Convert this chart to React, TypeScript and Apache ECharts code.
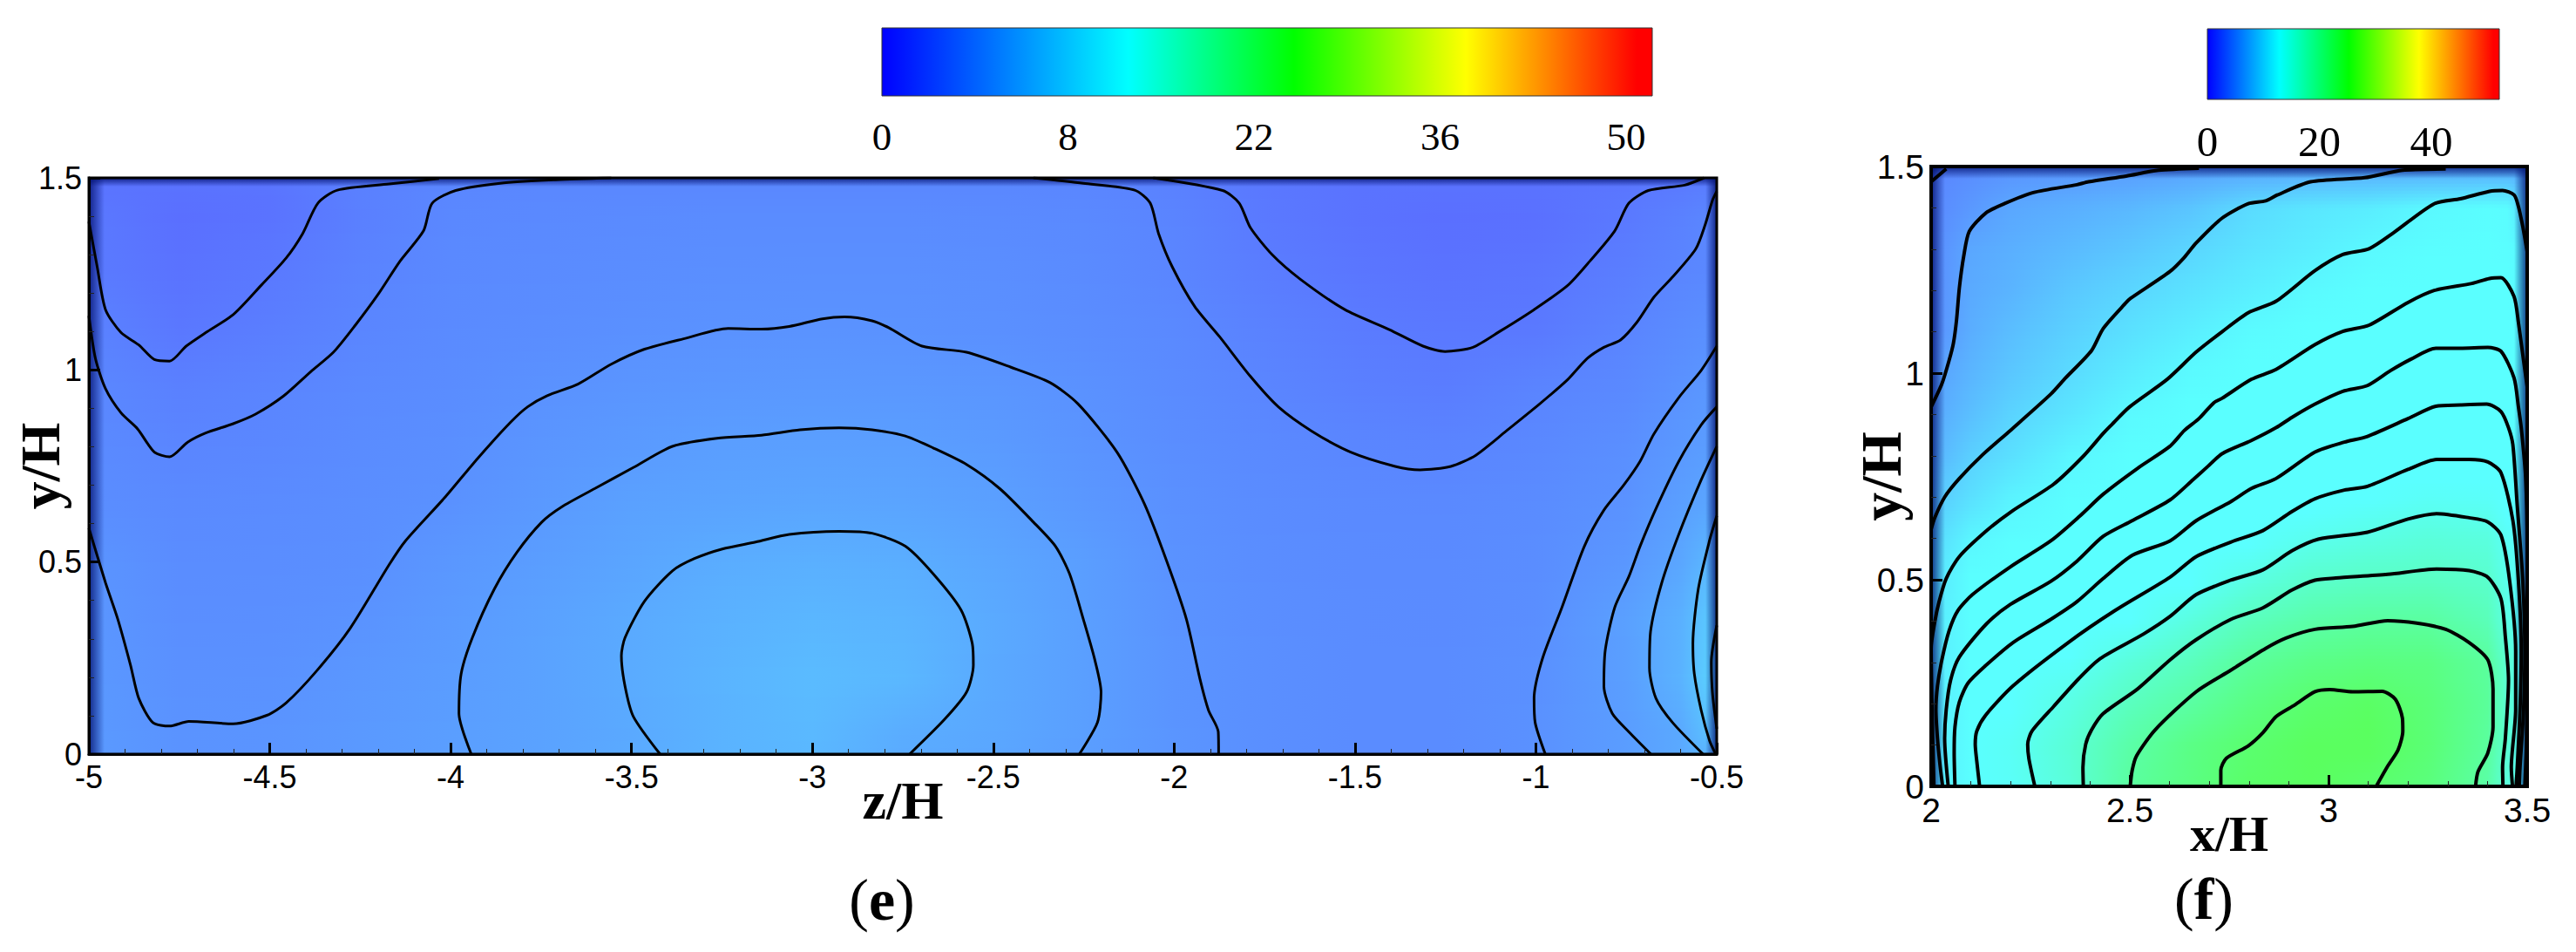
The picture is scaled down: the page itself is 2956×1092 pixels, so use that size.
import { useEffect, useRef } from "react";
import * as echarts from "echarts";

// panel (e): sampled field, rows top to bottom, columns left to right
const eCols = [-5, -4.75, -4.5, -4.25, -4, -3.75, -3.5, -3.25, -3, -2.75, -2.5, -2.25, -2, -1.75, -1.5, -1.25, -1, -0.75, -0.6, -0.5];
const eRows = [1.5, 1.4, 1.25, 1.1, 0.95, 0.8, 0.65, 0.5, 0.35, 0.2, 0.05, 0];
const eField = [
  [1.5, 1.5, 1.6, 2.6, 3.0, 3.1, 3.1, 3.1, 3.1, 3.1, 3.1, 3.0, 2.6, 1.9, 1.5, 1.5, 1.5, 1.7, 2.0, 2.2],
  [2.0, 1.2, 1.5, 2.5, 3.2, 3.3, 3.4, 3.5, 3.5, 3.5, 3.4, 3.3, 2.9, 2.0, 1.5, 1.2, 1.3, 2.0, 2.6, 3.2],
  [2.2, 1.5, 2.0, 2.8, 3.3, 3.45, 3.6, 3.75, 3.8, 3.8, 3.7, 3.45, 3.0, 2.3, 1.8, 1.5, 1.7, 2.4, 3.0, 3.3],
  [2.8, 1.9, 2.4, 3.0, 3.4, 3.6, 3.85, 4.0, 4.05, 4.0, 3.85, 3.6, 3.3, 2.7, 2.2, 1.95, 2.0, 2.9, 3.5, 3.9],
  [3.2, 2.6, 2.9, 3.3, 3.55, 3.95, 4.25, 4.4, 4.5, 4.45, 4.3, 3.95, 3.45, 3.0, 2.55, 2.3, 2.9, 3.3, 4.0, 4.5],
  [3.4, 3.0, 3.15, 3.5, 3.75, 4.25, 4.65, 4.97, 5.05, 5.0, 4.7, 4.15, 3.65, 3.3, 3.05, 2.9, 3.2, 3.75, 4.5, 5.0],
  [3.65, 3.35, 3.45, 3.65, 3.95, 4.55, 5.2, 5.4, 5.55, 5.45, 5.1, 4.45, 3.85, 3.5, 3.35, 3.3, 3.5, 4.0, 5.0, 5.7],
  [4.2, 3.55, 3.6, 3.75, 4.4, 4.9, 5.5, 6.1, 6.35, 6.2, 5.6, 4.95, 4.0, 3.6, 3.45, 3.4, 3.6, 4.4, 5.6, 7.4],
  [4.35, 3.7, 3.75, 4.05, 4.6, 5.2, 5.9, 6.5, 6.9, 6.7, 5.9, 5.0, 4.1, 3.7, 3.5, 3.45, 3.7, 5.1, 6.4, 8.9],
  [4.5, 3.9, 3.95, 4.4, 4.8, 5.3, 6.0, 6.7, 7.3, 7.0, 5.85, 5.05, 4.15, 3.75, 3.55, 3.5, 3.85, 5.0, 6.6, 9.5],
  [4.6, 4.05, 4.15, 4.55, 4.95, 5.25, 5.85, 6.6, 7.1, 6.1, 5.7, 5.0, 4.2, 3.75, 3.55, 3.5, 3.9, 4.85, 5.8, 8.2],
  [4.6, 4.1, 4.2, 4.6, 5.0, 5.3, 5.9, 6.6, 7.0, 6.0, 5.6, 4.95, 4.2, 3.75, 3.55, 3.5, 3.95, 4.9, 5.8, 7.0]
];

// panel (f): sampled field
const fCols = [2, 2.1, 2.2, 2.35, 2.5, 2.65, 2.8, 2.95, 3.1, 3.25, 3.4, 3.45, 3.5];
const fRows = [1.5, 1.4, 1.3, 1.2, 1.1, 1.0, 0.9, 0.8, 0.7, 0.6, 0.5, 0.4, 0.3, 0.2, 0.1, 0];
const fField = [
  [3, 3.5, 4, 4.3, 4.6, 5, 5.3, 5.5, 5.5, 5.5, 5.5, 5.5, 5.5],
  [3.2, 4.5, 5.7, 6.3, 7, 8, 9.8, 10.7, 11.2, 12.2, 12.6, 12.5, 9],
  [3.4, 5.7, 6.3, 7.2, 8.2, 9.4, 10.5, 11.3, 12.2, 12.6, 12.7, 12.6, 12],
  [3.5, 5.9, 6.7, 8.3, 9.4, 10.4, 11.4, 12.3, 12.7, 13, 13.3, 12.8, 12],
  [3.7, 6.2, 7.5, 9, 10.3, 11.4, 12.4, 12.8, 13.1, 13.3, 13.6, 13.2, 12.5],
  [5, 6.8, 8.2, 9.8, 11.2, 12.3, 12.8, 13.3, 13.7, 14.1, 14.3, 14, 12.9],
  [5.7, 7.6, 9.2, 10.7, 12.3, 12.9, 13.4, 13.9, 14.3, 14.7, 14.9, 14.5, 13],
  [6.5, 8.9, 10.2, 12, 12.7, 13.3, 13.9, 14.5, 14.9, 15.4, 15.5, 15, 13],
  [8.2, 10.2, 11.7, 12.6, 13.3, 13.9, 14.8, 15.4, 15.9, 16.4, 16.3, 15.5, 13],
  [9.5, 12, 12.6, 13.3, 14, 14.8, 15.7, 16.9, 17.5, 18, 17.8, 16.5, 13.5],
  [10.5, 12.8, 13.1, 14.2, 15, 15.7, 17.5, 18.8, 19.2, 19.3, 18.8, 17, 13.5],
  [11, 13.4, 14, 14.8, 16, 17.8, 19.7, 20.8, 21.4, 21.4, 20, 17.5, 13.5],
  [11, 14.2, 15, 16.2, 18, 19.6, 21.6, 22.7, 23.2, 23, 21.5, 18.5, 13.5],
  [11, 15, 15.9, 17.5, 19.6, 21.2, 23, 24.2, 24.7, 23.6, 21.7, 18.5, 13.5],
  [11, 15.4, 16.5, 18.3, 20.9, 22.8, 24.1, 25, 25.2, 23.8, 21.5, 18.5, 13.5],
  [11, 15.2, 16.4, 18.2, 21.4, 23, 24.5, 25.2, 24.3, 23.4, 21, 18, 13.5]
];

// contour lines of (e), as [z/H, y/H]
const eContours = [
  [[-5, 1.386], [-4.977, 1.268], [-4.954, 1.157], [-4.911, 1.097], [-4.862, 1.065], [-4.819, 1.027], [-4.777, 1.023], [-4.731, 1.062], [-4.677, 1.097], [-4.601, 1.144], [-4.524, 1.22], [-4.455, 1.291], [-4.409, 1.355], [-4.367, 1.434], [-4.313, 1.468], [-4.17, 1.484], [-4.032, 1.498]],
  [[-5, 1.141], [-4.982, 1.03], [-4.954, 0.951], [-4.911, 0.888], [-4.865, 0.846], [-4.819, 0.786], [-4.777, 0.774], [-4.727, 0.812], [-4.677, 0.836], [-4.601, 0.86], [-4.539, 0.885], [-4.462, 0.932], [-4.386, 0.996], [-4.324, 1.046], [-4.263, 1.117], [-4.201, 1.196], [-4.14, 1.283], [-4.075, 1.362], [-4.051, 1.434], [-3.986, 1.467], [-3.863, 1.486], [-3.71, 1.495], [-3.556, 1.5]],
  [[-2.389, 1.5], [-2.251, 1.486], [-2.109, 1.468], [-2.066, 1.434], [-2.043, 1.355], [-2.005, 1.268], [-1.943, 1.165], [-1.874, 1.086], [-1.789, 0.983], [-1.712, 0.904], [-1.62, 0.841], [-1.512, 0.786], [-1.389, 0.749], [-1.32, 0.74], [-1.235, 0.749], [-1.166, 0.778], [-1.082, 0.841], [-0.989, 0.912], [-0.912, 0.975], [-0.858, 1.03], [-0.812, 1.059], [-0.766, 1.078], [-0.72, 1.125], [-0.674, 1.189], [-0.62, 1.244], [-0.558, 1.315], [-0.532, 1.378], [-0.512, 1.441], [-0.5, 1.465]],
  [[-2.058, 1.5], [-1.866, 1.467], [-1.82, 1.434], [-1.789, 1.37], [-1.728, 1.299], [-1.651, 1.236], [-1.528, 1.157], [-1.405, 1.105], [-1.312, 1.062], [-1.251, 1.048], [-1.174, 1.059], [-1.097, 1.102], [-1.005, 1.157], [-0.912, 1.22], [-0.851, 1.283], [-0.782, 1.362], [-0.743, 1.434], [-0.689, 1.467], [-0.589, 1.481], [-0.535, 1.5]],
  [[-5, 0.588], [-4.954, 0.446], [-4.92, 0.351], [-4.885, 0.232], [-4.862, 0.145], [-4.823, 0.082], [-4.777, 0.073], [-4.724, 0.085], [-4.601, 0.079], [-4.508, 0.101], [-4.455, 0.133], [-4.37, 0.217], [-4.278, 0.327], [-4.17, 0.493], [-4.124, 0.556], [-4.017, 0.667], [-3.925, 0.77], [-3.833, 0.865], [-3.787, 0.904], [-3.733, 0.933], [-3.648, 0.963], [-3.556, 1.015], [-3.464, 1.054], [-3.356, 1.081], [-3.233, 1.108], [-3.141, 1.106], [-3.064, 1.113], [-2.972, 1.133], [-2.911, 1.138], [-2.835, 1.128], [-2.789, 1.11], [-2.697, 1.062], [-2.574, 1.046], [-2.451, 1.007], [-2.343, 0.967], [-2.266, 0.912], [-2.158, 0.786], [-2.082, 0.651], [-2.02, 0.501], [-1.966, 0.351], [-1.928, 0.193], [-1.905, 0.114], [-1.878, 0.058], [-1.877, 0]],
  [[-3.943, 0], [-3.977, 0.106], [-3.971, 0.209], [-3.94, 0.303], [-3.879, 0.43], [-3.817, 0.525], [-3.748, 0.604], [-3.694, 0.643], [-3.602, 0.691], [-3.495, 0.746], [-3.387, 0.801], [-3.264, 0.822], [-3.141, 0.83], [-3.034, 0.844], [-2.926, 0.849], [-2.835, 0.844], [-2.743, 0.828], [-2.666, 0.797], [-2.574, 0.754], [-2.482, 0.691], [-2.389, 0.604], [-2.328, 0.541], [-2.289, 0.469], [-2.251, 0.351], [-2.22, 0.248], [-2.202, 0.161], [-2.212, 0.082], [-2.262, 0]],
  [[-3.421, 0], [-3.495, 0.098], [-3.518, 0.177], [-3.528, 0.256], [-3.518, 0.303], [-3.464, 0.398], [-3.387, 0.477], [-3.326, 0.509], [-3.249, 0.534], [-3.157, 0.552], [-3.064, 0.572], [-2.926, 0.58], [-2.835, 0.575], [-2.743, 0.541], [-2.666, 0.469], [-2.589, 0.375], [-2.558, 0.288], [-2.555, 0.232], [-2.574, 0.161], [-2.635, 0.09], [-2.731, 0]],
  [[-0.974, 0], [-1.002, 0.082], [-1.005, 0.145], [-0.982, 0.248], [-0.928, 0.382], [-0.866, 0.541], [-0.812, 0.635], [-0.758, 0.699], [-0.712, 0.762], [-0.674, 0.833], [-0.605, 0.928], [-0.543, 0.999], [-0.5, 1.062]],
  [[-0.682, 0], [-0.743, 0.058], [-0.789, 0.106], [-0.812, 0.177], [-0.808, 0.272], [-0.782, 0.382], [-0.743, 0.462], [-0.712, 0.541], [-0.666, 0.643], [-0.605, 0.762], [-0.543, 0.857], [-0.5, 0.904]],
  [[-0.538, 0], [-0.622, 0.082], [-0.668, 0.145], [-0.686, 0.224], [-0.683, 0.319], [-0.652, 0.446], [-0.605, 0.572], [-0.543, 0.714], [-0.5, 0.801]],
  [[-0.503, 0], [-0.52, 0.035], [-0.543, 0.114], [-0.562, 0.209], [-0.566, 0.288], [-0.551, 0.43], [-0.52, 0.556], [-0.5, 0.62]],
  [[-0.5, 0.066], [-0.512, 0.161], [-0.515, 0.24], [-0.5, 0.335]]
];

// contour lines of (f), as [x/H, y/H]
const fContours = [
  [[2, 1.463], [2.038, 1.494]],
  [[2, 0.918], [2.027, 0.974], [2.045, 1.03], [2.056, 1.072], [2.064, 1.129], [2.071, 1.206], [2.082, 1.283], [2.096, 1.343], [2.137, 1.387], [2.184, 1.41], [2.257, 1.437], [2.367, 1.456], [2.396, 1.463], [2.491, 1.477], [2.572, 1.491], [2.674, 1.496]],
  [[2, 0.622], [2.009, 0.65], [2.034, 0.7], [2.071, 0.745], [2.129, 0.802], [2.199, 0.861], [2.301, 0.949], [2.338, 0.988], [2.404, 1.055], [2.433, 1.108], [2.491, 1.171], [2.502, 1.181], [2.601, 1.246], [2.637, 1.28], [2.667, 1.315], [2.732, 1.375], [2.798, 1.41], [2.842, 1.417], [2.871, 1.431], [2.955, 1.463], [3.091, 1.473], [3.186, 1.491], [3.295, 1.494]],
  [[2.007, 0], [2.002, 0.2], [2, 0.334], [2.009, 0.397], [2.02, 0.447], [2.038, 0.503], [2.071, 0.556], [2.14, 0.619], [2.202, 0.665], [2.308, 0.731], [2.382, 0.798], [2.433, 0.854], [2.451, 0.872], [2.499, 0.918], [2.594, 0.985], [2.667, 1.051], [2.732, 1.1], [2.798, 1.146], [2.868, 1.174], [2.966, 1.248], [3.036, 1.287], [3.102, 1.301], [3.164, 1.34], [3.266, 1.41], [3.332, 1.422], [3.405, 1.44], [3.438, 1.442], [3.467, 1.431], [3.478, 1.403], [3.489, 1.354], [3.5, 1.294]],
  [[2.029, 0], [2.023, 0.046], [2.016, 0.116], [2.012, 0.186], [2.016, 0.243], [2.027, 0.306], [2.045, 0.376], [2.067, 0.425], [2.104, 0.464], [2.199, 0.531], [2.301, 0.594], [2.374, 0.654], [2.433, 0.707], [2.52, 0.77], [2.601, 0.823], [2.637, 0.861], [2.674, 0.89], [2.711, 0.928], [2.732, 0.939], [2.806, 0.985], [2.868, 1.009], [2.966, 1.069], [3.036, 1.101], [3.102, 1.116], [3.2, 1.171], [3.266, 1.2], [3.361, 1.217], [3.405, 1.229], [3.434, 1.231], [3.467, 1.185], [3.478, 1.122], [3.489, 1.044], [3.5, 0.967]],
  [[2.043, 0], [2.034, 0.116], [2.038, 0.186], [2.049, 0.257], [2.071, 0.313], [2.14, 0.394], [2.199, 0.44], [2.301, 0.496], [2.367, 0.545], [2.433, 0.605], [2.506, 0.643], [2.601, 0.693], [2.659, 0.742], [2.696, 0.774], [2.732, 0.805], [2.806, 0.837], [2.868, 0.868], [2.908, 0.893], [2.966, 0.925], [3.036, 0.956], [3.098, 0.97], [3.156, 1.006], [3.208, 1.034], [3.27, 1.06], [3.332, 1.06], [3.401, 1.062], [3.434, 1.053], [3.467, 0.988], [3.478, 0.918], [3.485, 0.868], [3.496, 0.749], [3.5, 0.573], [3.5, 0.35], [3.498, 0.1], [3.494, 0]],
  [[2.06, 0], [2.058, 0.081], [2.06, 0.144], [2.071, 0.204], [2.093, 0.25], [2.137, 0.292], [2.206, 0.348], [2.301, 0.404], [2.367, 0.447], [2.433, 0.503], [2.506, 0.559], [2.601, 0.594], [2.667, 0.643], [2.754, 0.689], [2.806, 0.721], [2.868, 0.745], [2.966, 0.809], [3.04, 0.833], [3.098, 0.847], [3.2, 0.89], [3.27, 0.92], [3.332, 0.923], [3.398, 0.925], [3.434, 0.907], [3.453, 0.868], [3.464, 0.826], [3.475, 0.679], [3.489, 0.496], [3.494, 0.327], [3.491, 0.186], [3.482, 0.046], [3.48, 0]],
  [[2.122, 0], [2.115, 0.06], [2.111, 0.102], [2.115, 0.134], [2.137, 0.172], [2.206, 0.243], [2.345, 0.348], [2.462, 0.425], [2.601, 0.506], [2.667, 0.556], [2.754, 0.591], [2.835, 0.619], [2.908, 0.665], [2.966, 0.696], [3.04, 0.717], [3.098, 0.726], [3.2, 0.767], [3.273, 0.791], [3.354, 0.791], [3.401, 0.785], [3.434, 0.759], [3.464, 0.643], [3.478, 0.496], [3.485, 0.327], [3.482, 0.186], [3.475, 0.046], [3.472, 0]],
  [[2.261, 0], [2.246, 0.067], [2.243, 0.102], [2.254, 0.134], [2.308, 0.193], [2.371, 0.26], [2.425, 0.309], [2.535, 0.369], [2.601, 0.411], [2.667, 0.464], [2.754, 0.499], [2.835, 0.524], [2.908, 0.57], [2.974, 0.598], [3.098, 0.615], [3.2, 0.647], [3.273, 0.66], [3.354, 0.65], [3.401, 0.64], [3.434, 0.608], [3.456, 0.496], [3.471, 0.327], [3.471, 0.186], [3.46, 0.046], [3.463, 0]],
  [[2.383, 0], [2.382, 0.046], [2.389, 0.102], [2.404, 0.137], [2.433, 0.176], [2.52, 0.236], [2.601, 0.306], [2.667, 0.355], [2.754, 0.404], [2.835, 0.432], [2.908, 0.475], [2.966, 0.499], [3.018, 0.504], [3.149, 0.513], [3.273, 0.526], [3.354, 0.522], [3.401, 0.506], [3.434, 0.454], [3.445, 0.362], [3.453, 0.257], [3.445, 0.116], [3.438, 0.046], [3.439, 0]],
  [[2.501, 0], [2.506, 0.039], [2.517, 0.074], [2.564, 0.137], [2.667, 0.229], [2.754, 0.281], [2.842, 0.334], [2.893, 0.359], [2.966, 0.38], [3.061, 0.387], [3.149, 0.401], [3.222, 0.395], [3.295, 0.38], [3.354, 0.348], [3.401, 0.306], [3.414, 0.236], [3.414, 0.144], [3.401, 0.081], [3.376, 0.035], [3.37, 0]],
  [[2.729, 0], [2.729, 0.039], [2.743, 0.068], [2.798, 0.098], [2.835, 0.13], [2.868, 0.169], [2.915, 0.197], [2.966, 0.229], [3.003, 0.234], [3.061, 0.229], [3.135, 0.23], [3.168, 0.211], [3.186, 0.165], [3.187, 0.134], [3.175, 0.088], [3.149, 0.049], [3.12, 0]]
];

// colour bars
const eBarLabels = ["0", "8", "22", "36", "50"];
const fBarLabels = ["0", "20", "40"];
const eBarStops = [[0, "#0000ff"], [0.32, "#00ffff"], [0.535, "#00ff00"], [0.758, "#ffff00"], [0.98, "#ff0000"], [1, "#ff0000"]];
const fBarStops = [[0, "#0000ff"], [0.247, "#00ffff"], [0.484, "#00ff00"], [0.725, "#ffff00"], [0.98, "#ff0000"], [1, "#ff0000"]];

// field colour: faded version of the bar's rainbow, flat cyan between 12.7 and 16
function fieldColor(v: number) {
  let g = 255;
  let b = 255;
  if (v < 12.7) g = 96 + (159 * Math.max(v, 0)) / 12.7;
  else if (v > 16) b = 255 - (160 * Math.min(v - 16, 9)) / 9;
  return `rgb(90,${Math.round(g)},${Math.round(b)})`;
}

function fieldSeries(cols: number[], rows: number[], field: number[][], axis: number) {
  const xMin = cols[0];
  const xSpan = cols[cols.length - 1] - xMin;
  return {
    type: "custom",
    xAxisIndex: axis,
    yAxisIndex: axis,
    z: 1,
    silent: true,
    // one item per band between two sampled rows
    data: rows.slice(0, -1).map((y, i) => [xMin, y, i]),
    renderItem: (params: any, api: any) => {
      const i = api.value(2);
      const p0 = api.coord([xMin, rows[i]]);
      const p1 = api.coord([xMin + xSpan, rows[i + 1]]);
      const h = p1[1] - p0[1];
      const steps = Math.max(1, Math.round(h / 4));
      const children = [];
      // shading between the two rows, so that the bands do not show
      for (let k = 0; k < steps; k++) {
        const t = (k + 0.5) / steps;
        const stops = cols.map((c, j) => ({
          offset: (c - xMin) / xSpan,
          color: fieldColor(field[i][j] * (1 - t) + field[i + 1][j] * t)
        }));
        children.push({
          type: "rect",
          shape: { x: p0[0], y: p0[1] + (h * k) / steps, width: p1[0] - p0[0], height: h / steps + (k === steps - 1 && i === rows.length - 2 ? 0 : 1) },
          style: { fill: new echarts.graphic.LinearGradient(0, 0, 1, 0, stops) }
        });
      }
      return { type: "group", children };
    }
  };
}

// dark shading along the walls plus the box round the plot
function wallSeries(axis: number, left: number, right: number, top: number, frame: number) {
  const dark = "rgba(0,15,110,0.82)";
  const clear = "rgba(0,15,110,0)";
  const grad = (x0: number, y0: number, x1: number, y1: number) =>
    new echarts.graphic.LinearGradient(x0, y0, x1, y1, [{ offset: 0, color: dark }, { offset: 1, color: clear }]);
  return {
    type: "custom",
    xAxisIndex: axis,
    yAxisIndex: axis,
    z: 2,
    silent: true,
    data: [[0]],
    renderItem: (params: any) => {
      const c = params.coordSys;
      return {
        type: "group",
        children: [
          { type: "rect", shape: { x: c.x, y: c.y, width: left, height: c.height }, style: { fill: grad(0, 0, 1, 0) } },
          { type: "rect", shape: { x: c.x + c.width - right, y: c.y, width: right, height: c.height }, style: { fill: grad(1, 0, 0, 0) } },
          { type: "rect", shape: { x: c.x, y: c.y, width: c.width, height: top }, style: { fill: grad(0, 0, 0, 1) } },
          { type: "rect", z2: 50, shape: { x: c.x, y: c.y, width: c.width, height: c.height }, style: { fill: "none", stroke: "#000", lineWidth: frame } }
        ]
      };
    }
  };
}

function contourSeries(lines: number[][][], axis: number, width: number) {
  return lines.map((data) => ({
    type: "line",
    xAxisIndex: axis,
    yAxisIndex: axis,
    z: 5,
    silent: true,
    symbol: "none",
    smooth: 0.25,
    lineStyle: { color: "#000", width },
    data
  }));
}

function axisStyle(fontSize: number, nameSize: number, nameGap: number) {
  return {
    z: 10,
    axisLine: { show: true, onZero: false, lineStyle: { color: "#000", width: 3 } },
    axisTick: { show: true, inside: true, length: 13, lineStyle: { color: "#000", width: 3 } },
    minorTick: { show: true, splitNumber: 5, length: 6, lineStyle: { color: "#222", width: 1 } },
    splitLine: { show: false },
    axisLabel: { color: "#000", fontFamily: "Liberation Sans", fontSize, margin: 8, showMinLabel: true, showMaxLabel: true },
    nameLocation: "middle",
    nameGap,
    nameMoveOverlap: false,
    nameTextStyle: { color: "#000", fontFamily: "Liberation Serif", fontWeight: "bold", fontSize: nameSize }
  };
}

function barGraphics(x: number, y: number, w: number, h: number, stops: any[], labels: string[], lx0: number, lstep: number, ly: number, fs: number) {
  return [
    {
      type: "rect",
      shape: { x, y, width: w, height: h },
      style: {
        fill: new echarts.graphic.LinearGradient(0, 0, 1, 0, stops.map((s) => ({ offset: s[0], color: s[1] }))),
        stroke: "#333",
        lineWidth: 1
      }
    },
    ...labels.map((text, i) => ({
      type: "text",
      x: lx0 + i * lstep,
      y: ly,
      style: { text, fill: "#000", font: `${fs}px "Liberation Serif"`, align: "center", verticalAlign: "middle" }
    }))
  ];
}

function panelLabel(letter: string, x: number, y: number) {
  return {
    type: "text",
    x,
    y,
    style: {
      text: `{p|(}{b|${letter}}{p|)}`,
      align: "center",
      verticalAlign: "middle",
      rich: {
        p: { font: '68px "Liberation Serif"', fill: "#000" },
        b: { font: 'bold 68px "Liberation Serif"', fill: "#000" }
      }
    }
  };
}

export default function App() {
  const ref = useRef<HTMLDivElement>(null);

  useEffect(() => {
    const chart = echarts.init(ref.current, null, { renderer: "svg" });
    const option: any = {
      animation: false,
      backgroundColor: "#fff",
      grid: [
        { left: 102, top: 204, width: 1868, height: 661, outerBoundsMode: "none" },
        { left: 2216, top: 191, width: 684, height: 711, outerBoundsMode: "none" }
      ],
      xAxis: [
        { ...axisStyle(36, 62, 22), type: "value", gridIndex: 0, min: -5, max: -0.5, interval: 0.5, name: "z/H" },
        { ...axisStyle(39, 58, 25), type: "value", gridIndex: 1, min: 2, max: 3.5, interval: 0.5, name: "x/H" }
      ],
      yAxis: [
        { ...axisStyle(36, 64, 24), type: "value", gridIndex: 0, min: 0, max: 1.5, interval: 0.5, name: "y/H" },
        { ...axisStyle(39, 66, 25), type: "value", gridIndex: 1, min: 0, max: 1.5, interval: 0.5, name: "y/H" }
      ],
      graphic: [
        ...barGraphics(1012, 32, 884, 78, eBarStops, eBarLabels, 1012, 213.5, 157, 45),
        ...barGraphics(2533, 33, 335, 81, fBarStops, fBarLabels, 2533, 128.5, 162, 49),
        panelLabel("e", 1012, 1032),
        panelLabel("f", 2529, 1031)
      ],
      series: [
        fieldSeries(eCols, eRows, eField, 0),
        fieldSeries(fCols, fRows, fField, 1),
        wallSeries(0, 18, 13, 10, 3),
        wallSeries(1, 16, 15, 14, 4),
        ...contourSeries(eContours, 0, 3),
        ...contourSeries(fContours, 1, 4)
      ]
    };
    chart.setOption(option);
    return () => chart.dispose();
  }, []);

  return <div ref={ref} style={{ position: "absolute", left: 0, top: 0, width: 2956, height: 1092 }} />;
}
